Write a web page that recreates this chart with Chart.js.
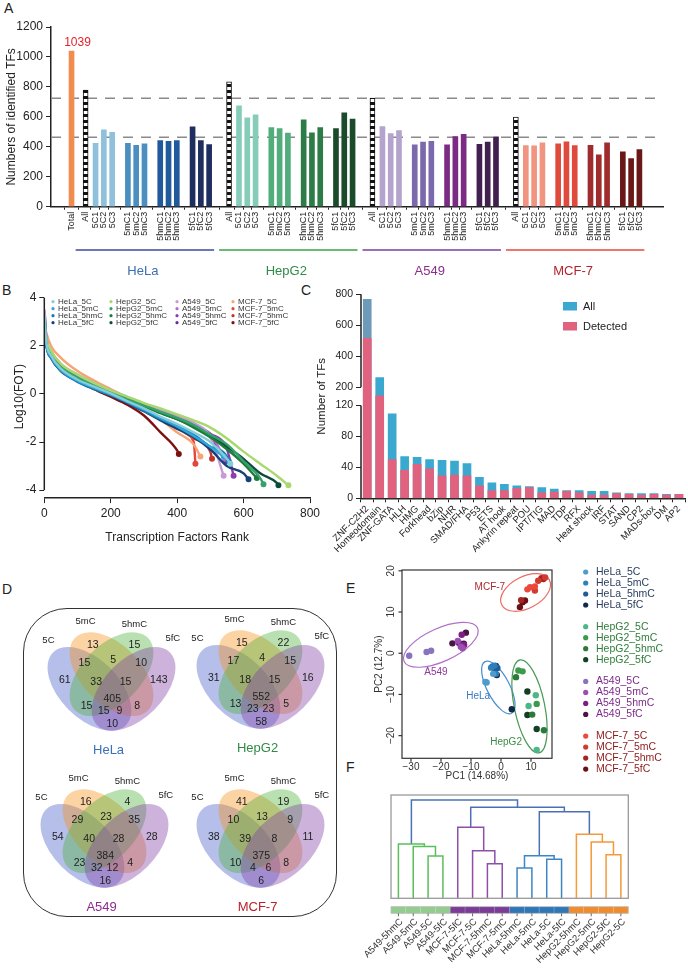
<!DOCTYPE html>
<html>
<head>
<meta charset="utf-8">
<title>TF profiling figure</title>
<script src="https://cdn.jsdelivr.net/npm/chart.js@4.4.1/dist/chart.umd.min.js"></script>
<style>
  body { margin: 0; background: #fff; }
  #fig { position: relative; width: 688px; height: 976px; overflow: hidden;
         font-family: "Liberation Sans", Arial, sans-serif; color: #222; }
  #fig canvas { position: absolute; }
  .tag { position: absolute; font-size: 14px; line-height: 16px; }
  #vennFrame { position: absolute; left: 23px; top: 608px; width: 312px; height: 307px;
               border: 1.3px solid #333; border-radius: 44px; }
</style>
</head>
<body>
<div id="fig">
  <div class="tag" style="left:4px;top:0px">A</div>
  <div class="tag" style="left:2px;top:282px">B</div>
  <div class="tag" style="left:301px;top:282px">C</div>
  <div class="tag" style="left:2px;top:581px">D</div>
  <div class="tag" style="left:346px;top:580px">E</div>
  <div class="tag" style="left:346px;top:759px">F</div>
  <div id="vennFrame"></div>
  <canvas id="chartA" width="688" height="285" style="left:0;top:0"></canvas>
  <canvas id="chartB" width="335" height="260" style="left:0;top:285px"></canvas>
  <canvas id="chartC" width="388" height="275" style="left:300px;top:285px"></canvas>
  <canvas id="vennHeLa" width="147" height="147" style="left:38px;top:611px"></canvas>
  <canvas id="vennHepG2" width="147" height="147" style="left:187px;top:609px"></canvas>
  <canvas id="vennA549" width="147" height="147" style="left:31px;top:768px"></canvas>
  <canvas id="vennMCF7" width="147" height="147" style="left:187px;top:768px"></canvas>
  <canvas id="chartE" width="348" height="240" style="left:340px;top:550px"></canvas>
  <canvas id="chartF" width="348" height="191" style="left:340px;top:785px"></canvas>
</div>
<script>
// ---- data ----
const cellLines = ["HeLa", "HepG2", "A549", "MCF-7"];
const marks = ["5C", "5mC", "5hmC", "5fC"];

// A: identified TFs per sample
const totalTFs = 1039;
const allTFs = [778, 834, 725, 598];
const helaReps = [424, 513, 497, 424, 410, 419, 442, 437, 442, 533, 442, 415];
const hepg2Reps = [674, 593, 613, 529, 522, 491, 580, 493, 529, 522, 627, 585];
const a549Reps = [535, 489, 508, 413, 431, 437, 413, 468, 484, 417, 431, 466];
const mcf7Reps = [408, 406, 426, 419, 433, 408, 410, 346, 426, 366, 321, 381];
const cutoffs = [725, 464];
const yTicksA = [0, 200, 400, 600, 800, 1000, 1200];

// B: log10(FOT) vs rank, read at these ranks
const rankSteps = [1, 5, 20, 50, 100, 150, 200, 250, 300, 350, 400, 450, 500, 550, 600, 650, 700];
const fotHeLa5C = [3.3, 2.3, 1.6, 1.05, 0.6, 0.3, 0.02, -0.3, -0.6, -0.95, -1.25, -1.6, -2.0, -2.7];
const fotHeLa5mC = [3.1, 2.2, 1.55, 1.0, 0.55, 0.25, -0.02, -0.33, -0.65, -1.0, -1.35, -1.75, -2.2];
const fotHeLa5hmC = [3.0, 2.1, 1.5, 0.95, 0.5, 0.2, -0.05, -0.35, -0.7, -1.05, -1.35, -1.7, -2.2, -2.6];
const fotHeLa5fC = [3.2, 2.2, 1.5, 0.95, 0.55, 0.22, -0.05, -0.38, -0.72, -1.1, -1.45, -1.8, -2.3, -3.0, -3.3];
const fotHepG25C = [3.0, 2.4, 1.8, 1.25, 0.8, 0.45, 0.15, -0.12, -0.38, -0.6, -0.85, -1.1, -1.4, -1.85, -2.4, -2.9, -3.4];
const fotHepG25mC = [3.1, 2.3, 1.7, 1.15, 0.7, 0.35, 0.08, -0.2, -0.48, -0.75, -1.0, -1.3, -1.7, -2.1, -2.8, -3.5];
const fotHepG25hmC = [3.2, 2.3, 1.65, 1.1, 0.65, 0.32, 0.05, -0.22, -0.5, -0.8, -1.05, -1.4, -1.8, -2.3, -2.9];
const fotHepG25fC = [3.0, 2.3, 1.65, 1.1, 0.66, 0.33, 0.05, -0.22, -0.5, -0.78, -1.05, -1.35, -1.75, -2.2, -2.7, -3.3, -3.7];
const fotA5495C = [3.5, 2.5, 1.8, 1.25, 0.8, 0.45, 0.15, -0.12, -0.4, -0.65, -0.9, -1.2, -1.8];
const fotA5495mC = [3.4, 2.45, 1.78, 1.22, 0.78, 0.43, 0.13, -0.14, -0.42, -0.68, -0.95, -1.25, -1.7];
const fotA5495hmC = [3.3, 2.4, 1.75, 1.2, 0.76, 0.42, 0.12, -0.15, -0.42, -0.7, -0.95, -1.25, -1.65, -2.3];
const fotA5495fC = [3.4, 2.45, 1.75, 1.2, 0.75, 0.4, 0.1, -0.18, -0.45, -0.72, -1.0, -1.3, -1.8];
const fotMCF75C = [2.9, 2.6, 2.0, 1.5, 0.95, 0.55, 0.2, -0.15, -0.55, -1.05, -1.6, -2.1];
const fotMCF75mC = [3.2, 2.4, 1.7, 1.15, 0.7, 0.35, 0.05, -0.3, -0.65, -1.05, -1.45, -2.0];
const fotMCF75hmC = [3.1, 2.3, 1.7, 1.15, 0.7, 0.35, 0.02, -0.3, -0.65, -1.0, -1.4, -1.85, -2.4];
const fotMCF75fC = [3.0, 2.2, 1.55, 1.0, 0.55, 0.2, -0.12, -0.45, -0.9, -1.6, -2.35];
const fotLastRank = [560, 540, 555, 615, 735, 660, 640, 705, 540, 545, 570, 545, 470, 455, 505, 405];
const fotLastValue = [-2.9, -2.6, -2.8, -3.55, -3.8, -3.75, -3.5, -3.8, -3.4, -2.7, -3.4, -2.8, -2.6, -2.9, -2.7, -2.5];
const fotTicks = [-4, -2, 0, 2, 4];

// C: TF families
const tfFamilies = ["ZNF-C2H2", "Homeodomain", "ZNF-GATA", "HLH", "HMG", "Forkhead", "bZip", "NHR",
  "SMAD/FHA", "P53", "ETS", "AT hook", "Ankyrin repeat", "POU", "IPT/TIG", "MAD", "TDP", "RFX",
  "Heat shock", "IRF", "STAT", "SAND", "CP2", "MADs-box", "DM", "AP2"];
const tfAll = [768, 262, 109, 54, 53, 50, 49, 48, 45, 27, 20, 18, 16, 15, 14, 12, 10, 10, 9, 9, 7, 6, 6, 6, 5, 5];
const tfDetected = [515, 162, 50, 36, 44, 38, 29, 30, 29, 16, 10, 10, 13, 14, 7, 8, 9, 7, 4, 4, 6, 5, 4, 5, 4, 5];
const tfTickValues = [0, 40, 80, 120, 200, 400, 600, 800];

// D: Venn region counts, order A,B,C,D,AB,BC,CD,ABC,BCD,ABCD,AC,BD,ACD,ABD,AD (A=5C B=5mC C=5hmC D=5fC)
const vennSets = ["5C", "5mC", "5hmC", "5fC"];
const vennHeLa = [61, 13, 15, 143, 15, 5, 10, 33, 15, 405, 15, 8, 15, 9, 10];
const vennHepG2 = [31, 15, 22, 16, 17, 4, 15, 18, 15, 552, 13, 5, 23, 23, 58];
const vennA549 = [54, 16, 4, 28, 29, 23, 35, 40, 28, 384, 23, 4, 32, 12, 16];
const vennMCF7 = [38, 41, 19, 11, 10, 13, 9, 39, 8, 375, 10, 8, 4, 6, 6];

// E: PCA scores, 3 replicates each of 5C, 5mC, 5hmC, 5fC
const pcaHeLa = [[-4.8, -7.1], [-5.2, -7.0], [-2.6, -5.0], [-1.7, -5.0], [-2.2, -3.0], [-3.3, -3.5],
  [-2.8, -3.2], [-1.2, -3.6], [-2.0, -4.2], [-1.7, -3.1], [-1.4, -5.3], [3.6, -13.6]];
const pcaHepG2 = [[11.6, -10.2], [9.2, -12.8], [11.9, -23.5], [5.8, -4.2], [7.2, -4.4], [11.9, -12.3],
  [5.0, -5.8], [10.4, -14.9], [14.3, -18.7], [8.8, -9.3], [8.8, -15.0], [11.9, -18.4]];
const pcaA549 = [[-30.6, -0.6], [-24.8, 0.3], [-23.3, 0.6], [-14.4, 3.0], [-13.4, 1.6], [-12.8, 1.2],
  [-13.1, 4.5], [-14.0, 2.5], [-12.3, 2.0], [-16.2, 2.4], [-11.7, 5.0], [-12.4, 2.3]];
const pcaMCF7 = [[8.8, 15.5], [9.7, 16.0], [11.3, 16.2], [11.3, 15.2], [12.4, 17.6], [14.7, 18.4],
  [14.1, 18.0], [13.5, 18.2], [6.7, 12.9], [6.3, 11.2], [7.2, 12.4], [8.0, 12.8]];
// ellipse: centre x, centre y, half major axis dx, dy, minor/major ratio
const ringHeLa = [-0.88, -8.3, -4.45, 6.26, 0.39];
const ringHepG2 = [9.5, -12.9, -3.17, 11.27, 0.32];
const ringA549 = [-20.05, 2.05, 12.25, 4.05, 0.41];
const ringMCF7 = [8.2, 14.75, 7.93, 3.05, 0.59];
const pcaTicksX = [-30, -20, -10, 0, 10];
const pcaTicksY = [-20, -10, 0, 10, 20];

// F: dendrogram (scipy-style linkage, leaves 0..15, merged clusters 16..)
const leafNames = ["A549-5hmC", "A549-5mC", "A549-5C", "A549-5fC", "MCF-7-5fC", "MCF-7-5C", "MCF-7-5hmC",
  "MCF-7-5mC", "HeLa-5hmC", "HeLa-5mC", "HeLa-5C", "HeLa-5fC", "HepG2-5hmC", "HepG2-5mC", "HepG2-5fC", "HepG2-5C"];
const linkLeft = [2, 1, 0, 6, 5, 4, 8, 10, 22, 14, 13, 12, 24, 21, 18];
const linkRight = [3, 16, 17, 7, 19, 20, 9, 11, 23, 15, 25, 26, 27, 28, 29];
const linkHeight = [4.23, 5.18, 5.43, 3.46, 4.76, 7.10, 3.03, 3.90, 4.26, 4.36, 5.63, 6.40, 8.66, 9.10, 9.83];

// ---- styling ----
const FONT = '"Liberation Sans", Arial, sans-serif';
const font = s => s + 'px ' + FONT;
Chart.defaults.font.family = FONT;
Chart.defaults.color = '#222';
Chart.defaults.animation = false;
Chart.defaults.layout.autoPadding = false;
Chart.defaults.plugins.legend.display = false;
Chart.defaults.plugins.tooltip.enabled = false;

const lineColors = ['#3a4a9e', '#3aa04a', '#7a3f9d', '#e8493f'];
const nameColors = ['#3b6db3', '#2e8b47', '#8a2f8f', '#b3242f'];
const repColors = [
  ['#8fc1dc', '#4b8ec0', '#215a9c', '#1e2f5f'],
  ['#86cdb9', '#51ad7c', '#2d7c47', '#1a4b2b'],
  ['#b3a3cd', '#7c69ad', '#7b2b83', '#41204f'],
  ['#f29580', '#e04a3d', '#9f2b2c', '#6a1717']
];

// ---------- A ----------
const canvasA = document.getElementById('chartA');
const checker = (() => {
  const t = document.createElement('canvas');
  t.width = 6; t.height = 6;
  const g = t.getContext('2d');
  g.fillStyle = '#fff'; g.fillRect(0, 0, 6, 6);
  g.fillStyle = '#111'; g.fillRect(0, 0, 6, 3);
  return canvasA.getContext('2d').createPattern(t, 'repeat');
})();

const repsByCell = [helaReps, hepg2Reps, a549Reps, mcf7Reps];
const barsA = [{ x: 0, y: totalTFs, color: '#f28b4f', label: 'Total', all: false }];
const allStart = [];
cellLines.forEach((cl, i) => {
  const c = 1.7 + i * 17.3;
  allStart.push(c);
  barsA.push({ x: c, y: allTFs[i], color: checker, label: 'All', all: true });
  marks.forEach((m, g) => {
    for (let r = 0; r < 3; r++) {
      barsA.push({ x: c + 1.2 + g * 3.9 + r, y: repsByCell[i][g * 3 + r], color: repColors[i][g], label: m + (r + 1), all: false });
    }
  });
});

const panelAPlugin = {
  id: 'panelA',
  beforeDatasetsDraw(chart) {
    const { ctx, chartArea: ca, scales: { y } } = chart;
    ctx.save();
    ctx.strokeStyle = '#8a8a8a';
    ctx.lineWidth = 1.5;
    ctx.setLineDash([10, 8]);
    cutoffs.forEach(v => {
      const py = y.getPixelForValue(v);
      ctx.beginPath(); ctx.moveTo(ca.left, py); ctx.lineTo(ca.right, py); ctx.stroke();
    });
    ctx.restore();
  },
  afterDraw(chart) {
    const { ctx, scales: { x, y } } = chart;
    ctx.save();
    ctx.fillStyle = '#e3242b';
    ctx.font = font(12);
    ctx.textAlign = 'center';
    ctx.textBaseline = 'alphabetic';
    ctx.fillText(String(totalTFs), x.getPixelForValue(0) + 6, y.getPixelForValue(totalTFs) - 5);
    cellLines.forEach((cl, i) => {
      const x1 = x.getPixelForValue(allStart[i] - 1.2);
      const x2 = x.getPixelForValue(allStart[i] + 15.5);
      ctx.strokeStyle = lineColors[i];
      ctx.lineWidth = 1.5;
      ctx.beginPath(); ctx.moveTo(x1, 250); ctx.lineTo(x2, 250); ctx.stroke();
      ctx.fillStyle = nameColors[i];
      ctx.font = font(13);
      ctx.textBaseline = 'middle';
      ctx.fillText(cl, (x1 + x2) / 2 - 2, 271);
    });
    ctx.restore();
  }
};

new Chart(canvasA, {
  type: 'bar',
  data: {
    datasets: [{
      data: barsA.map(b => ({ x: b.x, y: b.y })),
      backgroundColor: barsA.map(b => b.color),
      borderColor: '#111',
      borderWidth: barsA.map(b => (b.all ? 1 : 0)),
      barThickness: 5
    }]
  },
  options: {
    responsive: false,
    layout: { padding: { top: 27, right: 25, left: 0, bottom: 0 } },
    scales: {
      x: {
        type: 'linear', min: -1.78, max: 70.65,
        afterFit: s => { s.height = 78.3; },
        afterBuildTicks: s => { s.ticks = barsA.map(b => ({ value: b.x })); },
        ticks: { autoSkip: false, minRotation: 90, maxRotation: 90, font: { size: 9 }, padding: 2,
                 callback: (v, i) => barsA[i].label },
        grid: { display: true, drawOnChartArea: false, tickLength: 3, color: '#222' },
        border: { display: true, color: '#222', width: 1.5 }
      },
      y: {
        min: 0, max: 1200,
        afterBuildTicks: s => { s.ticks = yTicksA.map(v => ({ value: v })); },
        afterFit: s => { s.width = 51; },
        ticks: { font: { size: 12 }, padding: 3, callback: (v, i) => String(yTicksA[i]) },
        title: { display: true, text: 'Numbers of identified TFs', font: { size: 12 }, padding: { top: 4, bottom: 0 } },
        grid: { display: true, drawOnChartArea: false, tickLength: 5, color: '#222' },
        border: { display: true, color: '#222', width: 1.5 }
      }
    }
  },
  plugins: [panelAPlugin]
});

// ---------- B ----------
const fotNames = [];
cellLines.forEach(cl => marks.forEach(m => fotNames.push(cl + '_' + m)));
const fotValues = [fotHeLa5C, fotHeLa5mC, fotHeLa5hmC, fotHeLa5fC, fotHepG25C, fotHepG25mC, fotHepG25hmC, fotHepG25fC,
  fotA5495C, fotA5495mC, fotA5495hmC, fotA5495fC, fotMCF75C, fotMCF75mC, fotMCF75hmC, fotMCF75fC];
const fotColors = ['#86ccd9', '#2ea7d8', '#1b78b1', '#174279', '#a9d86e', '#33a36a', '#1f7a3c', '#0e4b3a',
  '#c79bd8', '#b26fc8', '#8e3daf', '#6b2aa3', '#f7a375', '#e5463c', '#c2352b', '#7e1010'];

const fotDatasets = fotValues.map((vals, k) => {
  const pts = vals.map((v, i) => ({ x: rankSteps[i], y: v }));
  pts.push({ x: fotLastRank[k], y: fotLastValue[k] });
  return {
    data: pts,
    showLine: true,
    borderColor: fotColors[k],
    backgroundColor: fotColors[k],
    borderWidth: 2.4,
    cubicInterpolationMode: 'monotone',
    pointRadius: ctx => (ctx.dataIndex === pts.length - 1 ? 1.8 : 0)
  };
});

const panelBPlugin = {
  id: 'panelB',
  afterDraw(chart) {
    const { ctx, chartArea: ca, scales: { y } } = chart;
    ctx.save();
    ctx.strokeStyle = '#222';
    ctx.lineWidth = 1.5;
    ctx.beginPath();
    ctx.moveTo(ca.left, y.getPixelForValue(fotTicks[fotTicks.length - 1]));
    ctx.lineTo(ca.left, y.getPixelForValue(fotTicks[0]));
    ctx.stroke();
    const colX = [53, 111, 177, 233];
    const rowY = [16.7, 23.7, 30.7, 37.7];
    ctx.font = font(8);
    ctx.textBaseline = 'middle';
    fotNames.forEach((n, k) => {
      const cx = colX[Math.floor(k / 4)], cy = rowY[k % 4];
      ctx.fillStyle = fotColors[k];
      ctx.beginPath(); ctx.arc(cx, cy, 1.6, 0, Math.PI * 2); ctx.fill();
      ctx.fillStyle = '#333';
      ctx.fillText(n, cx + 5, cy);
    });
    ctx.restore();
  }
};

new Chart(document.getElementById('chartB'), {
  type: 'scatter',
  data: { datasets: fotDatasets },
  options: {
    responsive: false,
    layout: { padding: { top: 5.8, right: 25, left: 0, bottom: 0 } },
    scales: {
      x: {
        type: 'linear', min: 0, max: 800,
        ticks: { stepSize: 200, font: { size: 12 }, padding: 3 },
        afterFit: s => { s.height = 46.9; },
        title: { display: true, text: 'Transcription Factors Rank', font: { size: 12 }, padding: { top: 1, bottom: 0 } },
        grid: { display: true, drawOnChartArea: false, tickLength: 5, color: '#222' },
        border: { display: true, color: '#222', width: 1.5 }
      },
      y: {
        min: -4.33, max: 4.1,
        afterBuildTicks: s => { s.ticks = fotTicks.map(v => ({ value: v })); },
        afterFit: s => { s.width = 44.3; },
        ticks: { font: { size: 12 }, padding: 3 },
        title: { display: true, text: 'Log10(FOT)', font: { size: 12 }, padding: { top: 12, bottom: 0 } },
        grid: { display: true, drawOnChartArea: false, tickLength: 5, color: '#222' },
        border: { display: false }
      }
    }
  },
  plugins: [panelBPlugin]
});

// ---------- C (broken y axis: 0-120 and 200-800) ----------
function brokenAxis(v) {
  if (v <= 120) return v;
  if (v <= 200) return 120 + (v - 120) / 80 * 23.5;
  return 143.5 + (v - 200) / 600 * 120.1;
}
const allColors = tfAll.map((v, i) => (i === 0 ? '#6c9ab8' : '#3ba8d0'));

const panelCPlugin = {
  id: 'panelC',
  afterDraw(chart) {
    const { ctx, chartArea: ca, scales: { y } } = chart;
    ctx.save();
    ctx.strokeStyle = '#222';
    ctx.lineWidth = 1.5;
    ctx.beginPath();
    ctx.moveTo(ca.left, y.getPixelForValue(brokenAxis(800)));
    ctx.lineTo(ca.left, y.getPixelForValue(brokenAxis(200)));
    ctx.moveTo(ca.left, y.getPixelForValue(brokenAxis(120)));
    ctx.lineTo(ca.left, y.getPixelForValue(0));
    ctx.stroke();
    ctx.font = font(11);
    ctx.textBaseline = 'middle';
    [['All', '#3ba8d0', 17], ['Detected', '#e0627f', 37]].forEach(([t, c, yy]) => {
      ctx.fillStyle = c;
      ctx.fillRect(263, yy, 14, 8.5);
      ctx.fillStyle = '#222';
      ctx.fillText(t, 283, yy + 4.5);
    });
    ctx.restore();
  }
};

new Chart(document.getElementById('chartC'), {
  type: 'bar',
  data: {
    labels: tfFamilies,
    datasets: [
      { label: 'Detected', data: tfDetected.map(brokenAxis), backgroundColor: '#e0627f', barThickness: 8, grouped: false },
      { label: 'All', data: tfAll.map(brokenAxis), backgroundColor: allColors, barThickness: 8, grouped: false }
    ]
  },
  options: {
    responsive: false,
    layout: { padding: { top: 8.3, right: 1, left: 0, bottom: 0 } },
    scales: {
      x: {
        afterFit: s => { s.height = 61.7; },
        ticks: { autoSkip: false, minRotation: 45, maxRotation: 45, font: { size: 9.5 }, padding: 1 },
        grid: { display: true, drawOnChartArea: false, tickLength: 4, color: '#222' },
        border: { display: true, color: '#222', width: 1.5 }
      },
      y: {
        min: 0, max: brokenAxis(800),
        afterBuildTicks: s => { s.ticks = tfTickValues.map(v => ({ value: brokenAxis(v) })); },
        afterFit: s => { s.width = 61; },
        ticks: { font: { size: 10.5 }, padding: 3, callback: (v, i) => String(tfTickValues[i]) },
        title: { display: true, text: 'Number of TFs', font: { size: 11.5 }, padding: { top: 15, bottom: 0 } },
        grid: { display: true, drawOnChartArea: false, tickLength: 5, color: '#222' },
        border: { display: false }
      }
    }
  },
  plugins: [panelCPlugin]
});

// ---------- D (Venn) ----------
const vennAnchors = [[0.182, 0.533], [0.373, 0.767], [0.656, 0.767], [0.822, 0.533], [0.316, 0.646],
  [0.511, 0.665], [0.702, 0.646], [0.396, 0.517], [0.595, 0.517], [0.505, 0.404], [0.33, 0.356],
  [0.675, 0.356], [0.448, 0.316], [0.554, 0.316], [0.505, 0.229]];
const vennShapes = [[0.35, 0.47, 1], [0.5, 0.57, 1], [0.5, 0.57, -1], [0.65, 0.47, -1]];
const vennFills = ['rgba(70,95,200,0.4)', 'rgba(247,145,25,0.4)', 'rgba(80,177,57,0.4)', 'rgba(130,65,167,0.4)'];
const vennSetPos = [[0.071, 0.80], [0.323, 0.928], [0.656, 0.91], [0.917, 0.812]];

function vennChart(id, counts, name, nameColor) {
  new Chart(document.getElementById(id), {
    type: 'scatter',
    data: { datasets: [{ data: vennAnchors.map(([x, y]) => ({ x, y })), pointRadius: 0 }] },
    options: {
      responsive: false,
      layout: { padding: 0 },
      scales: {
        x: { type: 'linear', min: 0, max: 1, display: false },
        y: { type: 'linear', min: 0, max: 1, display: false }
      }
    },
    plugins: [{
      id: 'venn',
      beforeDatasetsDraw(chart) {
        const { ctx, scales: { x, y } } = chart;
        const unit = x.getPixelForValue(1) - x.getPixelForValue(0);
        ctx.save();
        vennShapes.forEach(([cx, cy, dir], i) => {
          ctx.beginPath();
          ctx.ellipse(x.getPixelForValue(cx), y.getPixelForValue(cy), 0.35 * unit, 0.2 * unit, dir * Math.PI / 4, 0, Math.PI * 2);
          ctx.fillStyle = vennFills[i];
          ctx.fill();
        });
        ctx.restore();
      },
      afterDatasetsDraw(chart) {
        const { ctx, scales: { x, y } } = chart;
        const pts = chart.getDatasetMeta(0).data;
        ctx.save();
        ctx.textAlign = 'center';
        ctx.textBaseline = 'middle';
        ctx.fillStyle = '#222';
        ctx.font = font(10.5);
        pts.forEach((p, i) => ctx.fillText(String(counts[i]), p.x, p.y));
        ctx.font = font(9.5);
        vennSets.forEach((s, i) => ctx.fillText(s, x.getPixelForValue(vennSetPos[i][0]), y.getPixelForValue(vennSetPos[i][1])));
        ctx.font = font(13);
        ctx.fillStyle = nameColor;
        ctx.fillText(name, x.getPixelForValue(0.48), y.getPixelForValue(0.05));
        ctx.restore();
      }
    }]
  });
}
vennChart('vennHeLa', vennHeLa, 'HeLa', '#3a70b8');
vennChart('vennHepG2', vennHepG2, 'HepG2', '#2f8a47');
vennChart('vennA549', vennA549, 'A549', '#8e2a90');
vennChart('vennMCF7', vennMCF7, 'MCF-7', '#b5232e');

// ---------- E (PCA) ----------
const pcaByCell = [pcaHeLa, pcaHepG2, pcaA549, pcaMCF7];
const pcaRings = [ringHeLa, ringHepG2, ringA549, ringMCF7];
const pcaColors = [
  ['#4f9bc9', '#2f7fb9', '#1f5d94', '#0f2a4d'],
  ['#4db78a', '#3c9b4a', '#2b7a37', '#143f24'],
  ['#8b72c0', '#9b4fb3', '#7d1f82', '#4a1448'],
  ['#ea4a3e', '#d2392f', '#a82223', '#6c0f14']
];
const ringColors = ['#4a8fd0', '#4a9a55', '#b06fc8', '#ee6b63'];
const pcaTextColors = ['#3a78c0', '#3c8c46', '#8e3a9a', '#b02a30'];
const legendTextColors = ['#2a3f5f', '#2f7d3a', '#7d2b8a', '#8e1b1b'];
const pcaNameAt = [[-7.6, -10.5], [1.7, -21.7], [-21.7, -4.7], [-3.7, 15.9]];

const pcaDatasets = [];
pcaByCell.forEach((pts, i) => {
  marks.forEach((m, g) => {
    pcaDatasets.push({
      data: pts.slice(g * 3, g * 3 + 3).map(([x, y]) => ({ x, y })),
      backgroundColor: pcaColors[i][g],
      borderWidth: 0,
      pointRadius: 3.2
    });
  });
});

const panelEPlugin = {
  id: 'panelE',
  beforeDatasetsDraw(chart) {
    const { ctx, scales: { x, y } } = chart;
    ctx.save();
    pcaRings.forEach((e, i) => {
      const cx = x.getPixelForValue(e[0]), cy = y.getPixelForValue(e[1]);
      const ex = x.getPixelForValue(e[0] + e[2]) - cx, ey = y.getPixelForValue(e[1] + e[3]) - cy;
      const a = Math.hypot(ex, ey);
      ctx.beginPath();
      ctx.ellipse(cx, cy, a, a * e[4], Math.atan2(ey, ex), 0, Math.PI * 2);
      ctx.strokeStyle = ringColors[i];
      ctx.lineWidth = 1.2;
      ctx.stroke();
    });
    ctx.restore();
  },
  afterDraw(chart) {
    const { ctx, chartArea: ca, scales: { x, y } } = chart;
    ctx.save();
    ctx.strokeStyle = '#333';
    ctx.lineWidth = 1.2;
    ctx.strokeRect(ca.left, ca.top, ca.right - ca.left, ca.bottom - ca.top);
    ctx.fillStyle = '#333';
    ctx.font = font(10);
    ctx.textAlign = 'center';
    ctx.textBaseline = 'middle';
    pcaTicksX.forEach(v => {
      const px = x.getPixelForValue(v);
      ctx.beginPath(); ctx.moveTo(px, ca.bottom); ctx.lineTo(px, ca.bottom + 3.5); ctx.stroke();
      ctx.fillText(v < 0 ? '\u2212' + Math.abs(v) : String(v), px, ca.bottom + 9);
    });
    pcaTicksY.forEach(v => {
      const py = y.getPixelForValue(v);
      ctx.beginPath(); ctx.moveTo(ca.left, py); ctx.lineTo(ca.left - 3.5, py); ctx.stroke();
      ctx.save();
      ctx.translate(ca.left - 11, py);
      ctx.rotate(-Math.PI / 2);
      ctx.fillText(v < 0 ? '\u2212' + Math.abs(v) : String(v), 0, 0);
      ctx.restore();
    });
    ctx.fillText('PC1 (14.68%)', (ca.left + ca.right) / 2, ca.bottom + 17.5);
    ctx.save();
    ctx.translate(ca.left - 23, (ca.top + ca.bottom) / 2);
    ctx.rotate(-Math.PI / 2);
    ctx.fillText('PC2 (12.7%)', 0, 0);
    ctx.restore();
    // group names
    ctx.font = font(10);
    cellLines.forEach((cl, i) => {
      ctx.fillStyle = pcaTextColors[i];
      ctx.fillText(cl, x.getPixelForValue(pcaNameAt[i][0]), y.getPixelForValue(pcaNameAt[i][1]));
    });
    // legend
    ctx.textAlign = 'left';
    ctx.font = font(10.5);
    cellLines.forEach((cl, i) => {
      marks.forEach((m, g) => {
        const ly = 22 + i * 54.7 + g * 11;
        ctx.fillStyle = pcaColors[i][g];
        ctx.beginPath(); ctx.arc(245.7, ly, 2.6, 0, Math.PI * 2); ctx.fill();
        ctx.fillStyle = legendTextColors[i];
        ctx.fillText(cl + '_' + m, 256, ly);
      });
    });
    ctx.restore();
  }
};

new Chart(document.getElementById('chartE'), {
  type: 'scatter',
  data: { datasets: pcaDatasets },
  options: {
    responsive: false,
    layout: { padding: { left: 62, right: 136, top: 20, bottom: 31.7 } },
    scales: {
      x: { type: 'linear', min: -33, max: 17, display: false },
      y: { type: 'linear', min: -25.5, max: 20.2, display: false }
    }
  },
  plugins: [panelEPlugin]
});

// ---------- F (dendrogram) ----------
const groupBarColors = ['#93cd8d', '#7b3c98', '#2f76b7', '#f08c2d'];
const linkColors = ['#5abf5a', '#5abf5a', '#5abf5a', '#8e4fa9', '#8e4fa9', '#8e4fa9',
  '#3d86c6', '#3d86c6', '#3d86c6', '#f5993a', '#f5993a', '#f5993a', '#4c70b6', '#4c70b6', '#4c70b6'];

const nodeX = leafNames.map((n, i) => i);
const nodeH = leafNames.map(() => 0);
const linkDatasets = linkLeft.map((l, k) => {
  const r = linkRight[k], h = linkHeight[k];
  nodeX.push((nodeX[l] + nodeX[r]) / 2);
  nodeH.push(h);
  return {
    data: [{ x: nodeX[l], y: nodeH[l] }, { x: nodeX[l], y: h }, { x: nodeX[r], y: h }, { x: nodeX[r], y: nodeH[r] }],
    showLine: true,
    borderColor: linkColors[k],
    borderWidth: 1.5,
    pointRadius: 0,
    clip: false
  };
});

const panelFPlugin = {
  id: 'panelF',
  afterDraw(chart) {
    const { ctx, chartArea: ca, scales: { x } } = chart;
    ctx.save();
    ctx.strokeStyle = '#9a9a9a';
    ctx.lineWidth = 1.3;
    ctx.strokeRect(ca.left, ca.top, ca.right - ca.left, ca.bottom - ca.top);
    const barTop = ca.bottom + 8.4, barH = 6.6;
    leafNames.forEach((n, i) => {
      const x1 = x.getPixelForValue(i - 0.5), x2 = x.getPixelForValue(i + 0.5);
      ctx.fillStyle = groupBarColors[Math.floor(i / 4)];
      ctx.fillRect(x1, barTop, x2 - x1, barH);
      ctx.strokeStyle = 'rgba(255,255,255,0.35)';
      ctx.lineWidth = 0.8;
      ctx.beginPath(); ctx.moveTo(x2, barTop); ctx.lineTo(x2, barTop + barH); ctx.stroke();
    });
    ctx.strokeStyle = '#bbb';
    ctx.strokeRect(ca.left, barTop, ca.right - ca.left, barH);
    ctx.fillStyle = '#333';
    ctx.strokeStyle = '#666';
    ctx.lineWidth = 1;
    ctx.font = font(9.5);
    ctx.textAlign = 'right';
    ctx.textBaseline = 'middle';
    leafNames.forEach((n, i) => {
      const px = x.getPixelForValue(i);
      ctx.beginPath(); ctx.moveTo(px, barTop + barH); ctx.lineTo(px, barTop + barH + 3); ctx.stroke();
      ctx.save();
      ctx.translate(px + 3, barTop + barH + 7);
      ctx.rotate(-Math.PI / 4);
      ctx.fillText(n, 0, 0);
      ctx.restore();
    });
    ctx.restore();
  }
};

new Chart(document.getElementById('chartF'), {
  type: 'scatter',
  data: { datasets: linkDatasets },
  options: {
    responsive: false,
    layout: { padding: { left: 51, right: 59.7, top: 10, bottom: 77.7 } },
    scales: {
      x: { type: 'linear', min: -0.5, max: 15.5, display: false },
      y: { type: 'linear', min: 0, max: 10.33, display: false }
    }
  },
  plugins: [panelFPlugin]
});
</script>
</body>
</html>
